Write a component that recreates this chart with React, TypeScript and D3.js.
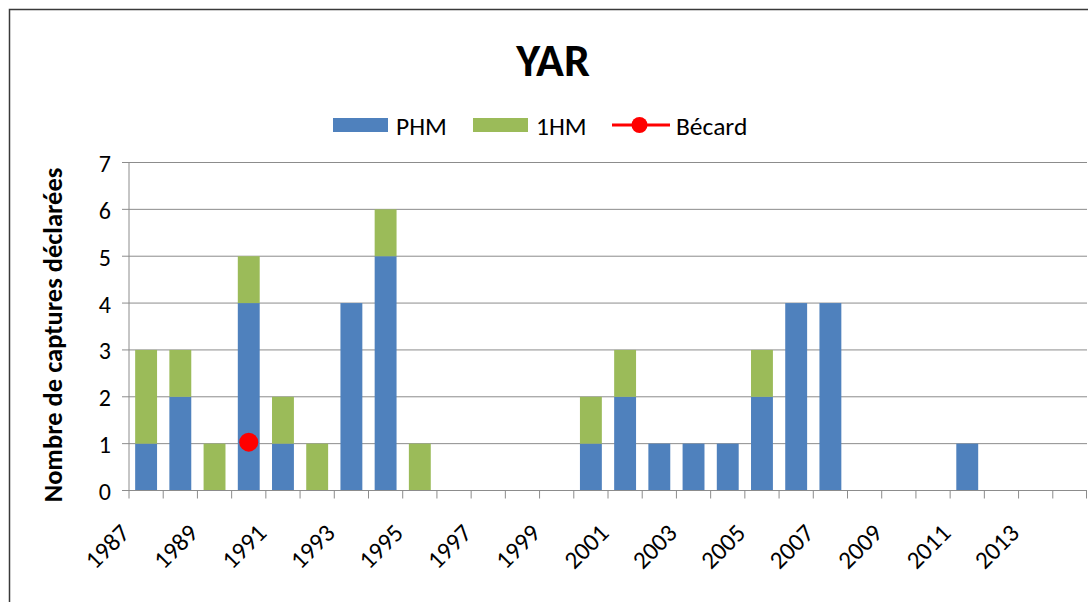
import React from "react";
import * as d3 from "d3";

const years: number[] = [
  1987, 1988, 1989, 1990, 1991, 1992, 1993, 1994, 1995, 1996, 1997, 1998, 1999, 2000,
  2001, 2002, 2003, 2004, 2005, 2006, 2007, 2008, 2009, 2010, 2011, 2012, 2013, 2014,
];
const phm: number[] = [1, 2, 0, 4, 1, 0, 4, 5, 0, 0, 0, 0, 0, 1, 2, 1, 1, 1, 2, 4, 4, 0, 0, 0, 1, 0, 0, 0];
const hm1: number[] = [2, 1, 1, 1, 1, 1, 0, 1, 1, 0, 0, 0, 0, 1, 1, 0, 0, 0, 1, 0, 0, 0, 0, 0, 0, 0, 0, 0];
const becard: (number | null)[] = [
  null, null, null, 1, null, null, null, null, null, null, null, null, null, null,
  null, null, null, null, null, null, null, null, null, null, null, null, null, null,
];
const yTicks: number[] = [0, 1, 2, 3, 4, 5, 6, 7];

const BLUE = "#4F81BD";
const GREEN = "#9BBB59";
const RED = "#FF0000";
const FONT = "Carlito, Lato, 'Liberation Sans', sans-serif";

export default function App() {
  const W = 1088;
  const H = 602;
  const left = 129;
  const right = 1087;
  const top = 162.5;
  const bottom = 490.5;

  const x = d3.scaleBand<string>().domain(years.map(String)).range([left, right]).paddingInner(0.36).paddingOuter(0.18);
  const xb = d3.scaleBand<string>().domain(years.map(String)).range([left, right]);
  const y = d3.scaleLinear().domain([0, 7]).range([bottom, top]);

  const rows = years.map((yr, i) => ({ year: String(yr), PHM: phm[i], HM1: hm1[i] }));
  const stack = d3.stack<any>().keys(["PHM", "HM1"])(rows);
  const colors = [BLUE, GREEN];

  const labelYears = years.filter((_, i) => i % 2 === 0);

  return (
    <svg width={W} height={H} style={{ position: "absolute", left: 0, top: 0, background: "#fff" }} fontFamily={FONT}>
      <rect x={0} y={0} width={W} height={H} fill="#fff" />
      <rect x={9.5} y={9.5} width={W + 10} height={H + 10} fill="none" stroke="#3a3a3a" strokeWidth={1.5} />

      <text x={553} y={76} textAnchor="middle" fontSize={46} fontWeight="bold" fill="#000">YAR</text>

      {/* legend */}
      <g fontSize={25.5} fill="#000">
        <rect x={333} y={118} width={55} height={14} fill={BLUE} />
        <text x={396} y={134.5}>PHM</text>
        <rect x={473} y={118} width={55} height={14} fill={GREEN} />
        <text x={536} y={134.5}>1HM</text>
        <line x1={612} x2={670} y1={125} y2={125} stroke={RED} strokeWidth={3} />
        <circle cx={639.5} cy={125} r={8} fill={RED} />
        <text x={676} y={134.5}>Bécard</text>
      </g>

      {/* gridlines */}
      {yTicks.filter((t) => t > 0).map((t) => (
        <line key={t} x1={left} x2={right} y1={y(t)} y2={y(t)} stroke="#8c8c8c" strokeWidth={1} />
      ))}

      {/* bars */}
      {stack.map((s, si) =>
        s.map((d, i) =>
          d[1] - d[0] > 0 ? (
            <rect
              key={si + "-" + i}
              x={x(years[i].toString())}
              width={x.bandwidth()}
              y={y(d[1])}
              height={y(d[0]) - y(d[1])}
              fill={colors[si]}
            />
          ) : null
        )
      )}

      {/* axes */}
      <line x1={left} x2={right} y1={bottom} y2={bottom} stroke="#8c8c8c" strokeWidth={1} />
      <line x1={left} x2={left} y1={top} y2={bottom} stroke="#8c8c8c" strokeWidth={1} />
      {yTicks.map((t) => (
        <g key={t}>
          <line x1={left - 7} x2={left} y1={y(t)} y2={y(t)} stroke="#8c8c8c" />
          <text x={111} y={y(t) + 9.5} textAnchor="end" fontSize={24} fill="#000">{t}</text>
        </g>
      ))}
      {years.map((yr) => (
        <line key={yr} x1={xb(String(yr))!} x2={xb(String(yr))!} y1={bottom} y2={bottom + 8} stroke="#8c8c8c" />
      ))}
      <line x1={right - 0.5} x2={right - 0.5} y1={bottom} y2={bottom + 8} stroke="#8c8c8c" />
      {labelYears.map((yr) => {
        const cx = xb(String(yr))! + xb.bandwidth() / 2;
        return (
          <text key={yr} transform={`translate(${cx - 15},${bottom + 44}) rotate(-45)`} textAnchor="end" fontSize={25} fill="#000">
            {yr}
          </text>
        );
      })}

      {/* Bécard */}
      {becard.map((v, i) =>
        v !== null ? (
          <circle key={i} cx={xb(String(years[i]))! + xb.bandwidth() / 2} cy={y(v) - 1.5} r={9.5} fill={RED} />
        ) : null
      )}

      <text transform={`translate(62,335) rotate(-90)`} textAnchor="middle" fontSize={26.5} fontWeight="bold" fill="#000">
        Nombre de captures déclarées
      </text>
    </svg>
  );
}
